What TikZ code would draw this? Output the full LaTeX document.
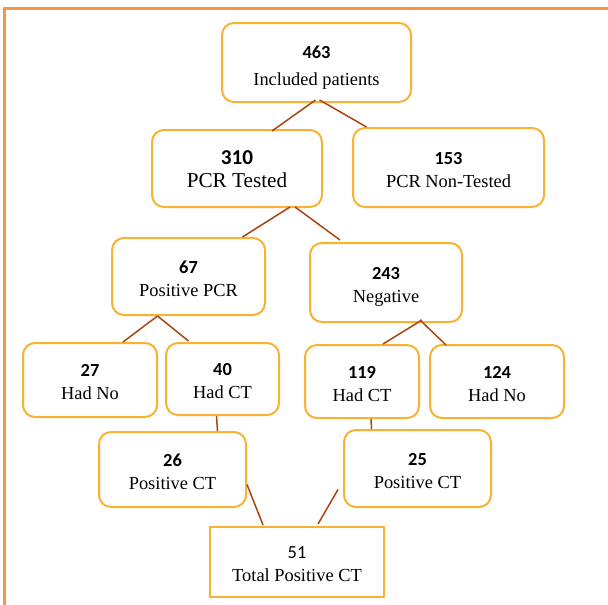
\documentclass[tikz,border=0pt]{standalone}
\usepackage{fontspec}
\setmainfont{Liberation Serif}
\newfontfamily\numfont{Carlito}
\usetikzlibrary{calc}
\definecolor{frameorange}{HTML}{F79646}
\definecolor{boxgold}{HTML}{F9B233}
\definecolor{linkbrown}{HTML}{A8460E}
\tikzset{
  x=1pt, y=-1pt,
  box/.style={draw=boxgold, line width=2pt, rounded corners=12pt, align=center,
    font=\fontsize{18.4}{23}\selectfont, inner sep=0pt},
  sharpbox/.style={box, rounded corners=0pt},
  link/.style={draw=linkbrown, line width=1.5pt},
}
\newcommand{\nm}[1]{\rule{0pt}{20pt}{\numfont\bfseries #1}}
\newcommand{\tx}[1]{#1\vphantom{p}}
\begin{document}
\begin{tikzpicture}
\useasboundingbox (0,0) rectangle (608,605);
\draw[frameorange, line width=2.5pt] (4.5,8.5) rectangle (640,640);

\node[box, minimum width=189pt, minimum height=79pt] (n463) at (316.5,62.5)
  {\rule{0pt}{23.7pt}{\numfont\bfseries 463}\\[4pt]\tx{Included patients}};
\node[box, minimum width=170pt, minimum height=77pt, font=\fontsize{21.2}{23}\selectfont] (n310) at (237,168.5)
  {\rule{0pt}{20.3pt}{\numfont\bfseries 310}\\\tx{PCR Tested}};
\node[box, minimum width=191pt, minimum height=79pt] (n153) at (448.5,167.5)
  {\nm{153}\\\tx{PCR Non-Tested}};
\node[box, minimum width=153pt, minimum height=77pt] (n67) at (188.5,276.5)
  {\nm{67}\\\tx{Positive PCR}};
\node[box, minimum width=152pt, minimum height=79pt] (n243) at (386,282.5)
  {\nm{243}\\\tx{Negative}};
\node[box, minimum width=134pt, minimum height=74pt] (n27) at (90,380)
  {\nm{27}\\\tx{Had No}};
\node[box, minimum width=113pt, minimum height=72pt] (n40) at (222.5,379)
  {\nm{40}\\\tx{Had CT}};
\node[box, minimum width=114pt, minimum height=73pt] (n119) at (362,381.5)
  {\nm{119}\\\tx{Had CT}};
\node[box, minimum width=134pt, minimum height=73pt] (n124) at (497,381.5)
  {\nm{124}\\\tx{Had No}};
\node[box, minimum width=147pt, minimum height=75pt] (n26) at (172.5,469.5)
  {\nm{26}\\\tx{Positive CT}};
\node[box, minimum width=147pt, minimum height=77pt] (n25) at (417.5,468.5)
  {\nm{25}\\\tx{Positive CT}};
\node[sharpbox, minimum width=174pt, minimum height=70pt] (n51) at (297,562)
  {\rule{0pt}{20pt}{\numfont 51}\\\tx{Total Positive CT}};

\draw[link] ($(n463.south)+(-1,-3)$) -- ($(n310.north)+(35,2)$);
\draw[link] ($(n463.south)+(3,-3)$) -- ($(n153.north)+(-82,0)$);
\draw[link] ($(n310.south)+(53,-1)$) -- ($(n67.north)+(54,0)$);
\draw[link] ($(n310.south)+(58,-1)$) -- ($(n243.north)+(-46,-2)$);
\draw[link] ($(n67.south)+(-31,0)$) -- ($(n27.north)+(33,0)$);
\draw[link] ($(n67.south)+(-31,0)$) -- ($(n40.north)+(-34,-1)$);
\draw[link] ($(n243.south)+(36,-3)$) -- ($(n119.north)+(21,0)$);
\draw[link] ($(n243.south)+(34,-3)$) -- ($(n124.north)+(-51,1)$);
\draw[link] ($(n40.south)+(-6,0)$) -- ($(n26.north)+(45,0)$);
\draw[link] ($(n119.south)+(9,0)$) -- ($(n25.north)+(-46,0)$);
\draw[link] ($(n26.east)+(0,15)$) -- ($(n51.north)+(-34,-1)$);
\draw[link] ($(n25.west)+(-5,21)$) -- ($(n51.north)+(21,-2)$);
\end{tikzpicture}
\end{document}
